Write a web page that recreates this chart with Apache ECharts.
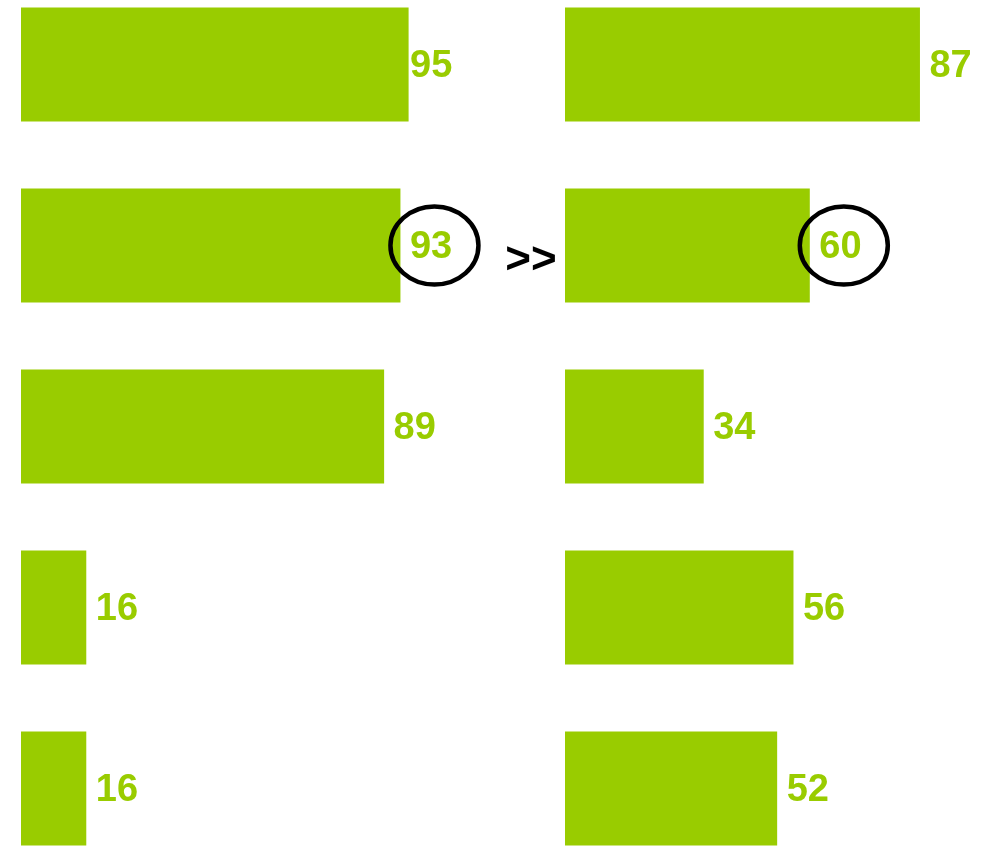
<!DOCTYPE html>
<html>
<head>
<meta charset="utf-8">
<script src="https://cdn.jsdelivr.net/npm/echarts@6/dist/echarts.min.js"></script>
<style>
  html, body { margin: 0; padding: 0; background: #fff; }
  #chart { width: 988px; height: 851px; }
</style>
</head>
<body>
<div id="chart"></div>
<script>
// Five rows, compared before (left) and after (right)
const categories = ['A', 'B', 'C', 'D', 'E'];
const beforeValues = [95, 93, 89, 16, 16];
const afterValues = [87, 60, 34, 56, 52];
// Row whose values get circled, with the arrow between them
const highlightIndex = 1;
const arrowText = '>>';

const GREEN = '#99CC00';
const FONT = '"Liberation Sans", Arial, sans-serif';

const chart = echarts.init(document.getElementById('chart'), null, { renderer: 'canvas' });

function barSeries(idx, values) {
  return {
    type: 'bar',
    xAxisIndex: idx,
    yAxisIndex: idx,
    barWidth: 114,
    silent: true,
    itemStyle: { color: GREEN },
    label: {
      show: true,
      position: 'right',
      distance: 9.5,
      offset: [0, 2],
      color: GREEN,
      fontFamily: FONT,
      fontWeight: 'bold',
      fontSize: 38
    },
    data: values.map((v, i) => {
      // the longest bar's label sits tight against the bar
      if (idx === 0 && i === 0) return { value: v, label: { distance: 1.5 } };
      return v;
    })
  };
}

const option = {
  animation: false,
  backgroundColor: '#fff',
  grid: [
    { left: 21, width: 408, top: -26, height: 905, outerBoundsMode: 'none', containLabel: false },
    { left: 565, width: 408, top: -26, height: 905, outerBoundsMode: 'none', containLabel: false }
  ],
  xAxis: [0, 1].map(i => ({
    type: 'value', gridIndex: i, min: 0, max: 100, show: false
  })),
  yAxis: [0, 1].map(i => ({
    type: 'category', gridIndex: i, data: categories, inverse: true, show: false
  })),
  series: [barSeries(0, beforeValues), barSeries(1, afterValues)]
};

chart.setOption(option);

// Circle the highlighted values and place the arrow between the panels
function annotate() {
  const cat = categories[highlightIndex];
  const p0 = chart.convertToPixel({ gridIndex: 0 }, [beforeValues[highlightIndex], cat]);
  const p1 = chart.convertToPixel({ gridIndex: 1 }, [afterValues[highlightIndex], cat]);
  const ring = (p) => ({
    type: 'ellipse',
    z: 100,
    shape: { cx: p[0] + 34, cy: p[1], rx: 44, ry: 39 },
    style: { fill: 'none', stroke: '#000', lineWidth: 4.5 },
    silent: true
  });
  chart.setOption({
    graphic: [
      ring(p0),
      ring(p1),
      {
        type: 'text',
        z: 100,
        x: 531,
        y: p0[1] + 15,
        style: {
          text: arrowText,
          fill: '#000',
          font: 'bold 44px ' + FONT,
          align: 'center',
          verticalAlign: 'middle'
        },
        silent: true
      }
    ]
  });
}
annotate();
</script>
</body>
</html>
